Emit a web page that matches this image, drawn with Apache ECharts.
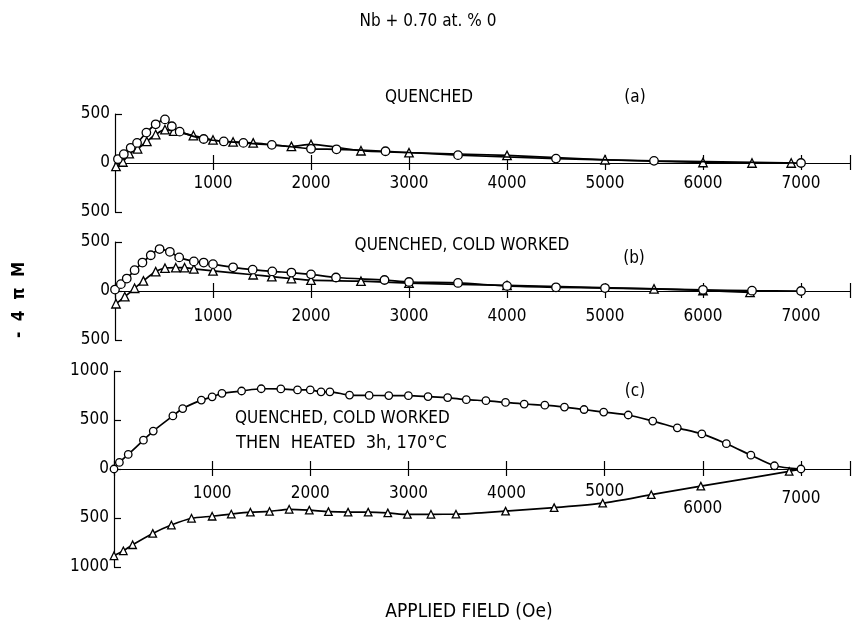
<!DOCTYPE html>
<html>
<head>
<meta charset="utf-8">
<script src="https://cdn.jsdelivr.net/npm/echarts@6/dist/echarts.min.js"></script>
<style>html,body{margin:0;padding:0;background:#fff;}#c{width:853px;height:623px;}</style>
</head>
<body>
<div id="c"></div>
<script>
// ---- data ----
const xTicks = [1000, 2000, 3000, 4000, 5000, 6000, 7000];
// panel (a) QUENCHED
const aCircH = [30, 90, 160, 225, 320, 415, 510, 580, 660, 905, 1110, 1310, 1600, 2000, 2260, 2760, 3500, 4500, 5500, 7000];
const aCircM = [40, 90, 155, 205, 310, 395, 445, 375, 320, 245, 220, 205, 185, 145, 140, 120, 80, 45, 22, 0];
const aTriH = [10, 80, 145, 230, 325, 415, 510, 600, 800, 1000, 1205, 1410, 1800, 2000, 2510, 3000, 4000, 5000, 6000, 6500, 6900];
const aTriM = [-35, 10, 95, 145, 220, 290, 340, 325, 280, 235, 215, 205, 170, 190, 125, 105, 78, 33, 5, 0, 0];
// panel (b) QUENCHED, COLD WORKED
const bCircH = [0, 60, 120, 200, 280, 365, 455, 560, 655, 805, 905, 1000, 1205, 1405, 1605, 1800, 2000, 2255, 2750, 3000, 3500, 4000, 4500, 5000, 6000, 6500, 7000];
const bCircM = [15, 70, 127, 212, 290, 365, 428, 400, 343, 302, 290, 274, 242, 218, 200, 188, 170, 138, 112, 92, 82, 52, 38, 30, 12, 3, 0];
const bTriH = [10, 100, 200, 290, 415, 510, 620, 710, 805, 1000, 1410, 1600, 1800, 2000, 2510, 3000, 4000, 5500, 6000, 6480];
const bTriM = [-130, -58, 28, 103, 198, 233, 238, 238, 226, 205, 166, 147, 127, 110, 100, 80, 57, 22, 5, -15];
// panel (c) QUENCHED, COLD WORKED THEN HEATED 3h, 170°C
const cCircH = [0, 55, 145, 300, 400, 600, 700, 890, 1000, 1100, 1300, 1500, 1700, 1870, 2000, 2110, 2200, 2400, 2600, 2800, 3000, 3200, 3400, 3590, 3790, 3990, 4180, 4390, 4590, 4790, 4990, 5240, 5490, 5740, 5990, 6240, 6490, 6730, 7000];
const cCircM = [0, 67, 149, 294, 387, 542, 617, 703, 736, 772, 796, 819, 817, 807, 807, 788, 788, 754, 751, 749, 748, 739, 729, 707, 697, 679, 663, 651, 632, 607, 581, 551, 489, 420, 358, 258, 141, 33, 0];
const cTriH = [0, 95, 190, 395, 585, 790, 1000, 1195, 1390, 1585, 1785, 1990, 2185, 2385, 2590, 2790, 2990, 3230, 3485, 3990, 4485, 4980, 5475, 5980, 6880, 7000];
const cTriM = [-886, -835, -773, -657, -572, -503, -482, -460, -441, -433, -411, -420, -435, -440, -440, -448, -464, -462, -461, -430, -394, -349, -262, -175, -25, 0];

const FONT = '"DejaVu Sans Condensed", "Liberation Sans Narrow", sans-serif';
const INK = '#000';
const zip = (h, m) => h.map((v, i) => [v, m[i]]);

const grids = [
  { left: 115, right: 0, top: 114, height: 98 },
  { left: 115, right: 0, top: 242, height: 98 },
  { left: 114, right: 0, top: 371, height: 196 }
];
// distance from grid bottom up to the zero line of each panel
const zeroShift = [-49, -49, -98];

function xFmt(v) { return xTicks.indexOf(v) >= 0 ? String(v) : ''; }
function xFmtC(v) {
  if (xTicks.indexOf(v) < 0) return '';
  if (v === 5000) return '{up|' + v + '}';
  if (v === 6000) return '{low|' + v + '}';
  if (v === 7000) return '{mid|' + v + '}';
  return '{n|' + v + '}';
}
const lblBase = { fontFamily: FONT, fontSize: 17, color: INK };
function mainX(gi, margin, fmt, rich) {
  return {
    type: 'value', gridIndex: gi, min: 0, max: 7500, interval: 1000,
    position: 'bottom', offset: zeroShift[gi],
    axisLine: { show: true, onZero: false, lineStyle: { color: INK, width: 1.2 } },
    axisTick: { show: true, inside: false, length: 7, lineStyle: { color: INK, width: 1.2 } },
    axisLabel: Object.assign({ margin: margin, formatter: fmt, rich: rich, showMinLabel: true, showMaxLabel: true }, lblBase),
    splitLine: { show: false }
  };
}
function tickX(gi) {
  return {
    type: 'value', gridIndex: gi, min: 0, max: 7500, interval: 1000,
    position: 'bottom', offset: zeroShift[gi],
    axisLine: { show: false, onZero: false },
    axisTick: { show: true, inside: true, length: 8, lineStyle: { color: INK, width: 1.2 } },
    axisLabel: { show: false }, splitLine: { show: false }
  };
}
function mkY(gi, lim) {
  return {
    type: 'value', gridIndex: gi, min: -lim, max: lim, interval: 500,
    axisLine: { show: true, onZero: false, lineStyle: { color: INK, width: 1.2 } },
    axisTick: { show: true, inside: true, length: 7, lineStyle: { color: INK, width: 1.2 } },
    axisLabel: Object.assign({ margin: 5, formatter: v => String(Math.abs(v)) }, lblBase),
    splitLine: { show: false }
  };
}
const richC = {
  n: { fontFamily: FONT, fontSize: 17, color: INK, padding: [3, 0, 0, 0] },
  up: { fontFamily: FONT, fontSize: 17, color: INK, padding: [1, 0, 0, 0] },
  mid: { fontFamily: FONT, fontSize: 17, color: INK, padding: [8, 0, 0, 0] },
  low: { fontFamily: FONT, fontSize: 17, color: INK, padding: [18, 0, 0, 0] }
};

function ser(gi, data, sym) {
  return {
    type: 'line', xAxisIndex: gi, yAxisIndex: gi, data: data,
    symbol: sym, symbolSize: v => (sym === 'triangle' && v[0] >= 7000) ? 0 : (gi === 2 ? 7.5 : 8.5),
    showSymbol: true, smooth: 0.25,
    lineStyle: { color: INK, width: 1.7 },
    itemStyle: { color: '#fff', borderColor: INK, borderWidth: 1.3 },
    z: sym === 'circle' ? 3 : 2,
    animation: false
  };
}

const textStyle = (s, size, extra) => Object.assign({ text: s, fontFamily: FONT, fontSize: size || 17, fill: INK, textAlign: 'center', textVerticalAlign: 'middle' }, extra || {});

const option = {
  backgroundColor: '#fff',
  animation: false,
  grid: grids,
  xAxis: [
    mainX(0, 12, xFmt), mainX(1, 17, xFmt), mainX(2, 13, xFmtC, richC),
    tickX(0), tickX(1), tickX(2)
  ],
  yAxis: [mkY(0, 500), mkY(1, 500), mkY(2, 1000)],
  series: [
    ser(0, zip(aTriH, aTriM), 'triangle'), ser(0, zip(aCircH, aCircM), 'circle'),
    ser(1, zip(bTriH, bTriM), 'triangle'), ser(1, zip(bCircH, bCircM), 'circle'),
    ser(2, zip(cTriH, cTriM), 'triangle'), ser(2, zip(cCircH, cCircM), 'circle')
  ],
  graphic: [
    { type: 'text', x: 428, y: 22, style: textStyle('Nb + 0.70 at. % 0', 17) },
    { type: 'text', x: 429, y: 98, style: textStyle('QUENCHED', 17) },
    { type: 'text', x: 635, y: 98, style: textStyle('(a)', 17) },
    { type: 'text', x: 462, y: 246, style: textStyle('QUENCHED, COLD WORKED', 17) },
    { type: 'text', x: 634, y: 259, style: textStyle('(b)', 17) },
    { type: 'text', x: 635, y: 392, style: textStyle('(c)', 17) },
    { type: 'text', x: 235, y: 419, style: textStyle('QUENCHED, COLD WORKED', 17, { textAlign: 'left' }) },
    { type: 'text', x: 236, y: 443, style: textStyle('THEN  HEATED  3h, 170°C', 18, { textAlign: 'left' }) },
    { type: 'text', x: 20, y: 300, rotation: Math.PI / 2, style: textStyle('-  4  π  M', 17, { fontWeight: 'bold' }) },
    { type: 'text', x: 469, y: 612, style: textStyle('APPLIED FIELD (Oe)', 19) }
  ]
};

const chart = echarts.init(document.getElementById('c'), null, { renderer: 'canvas' });
chart.setOption(option);
</script>
</body>
</html>
